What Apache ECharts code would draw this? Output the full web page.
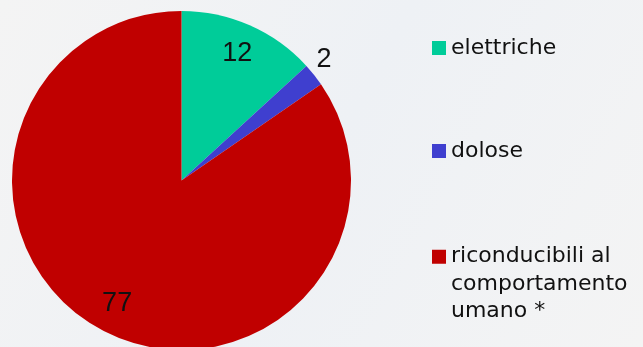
<!DOCTYPE html>
<html>
<head>
<meta charset="utf-8">
<script src="https://cdn.jsdelivr.net/npm/echarts@6/dist/echarts.min.js"></script>
<style>
html,body{margin:0;padding:0;background:#f3f4f6;}
#c{width:643px;height:347px;}
</style>
</head>
<body>
<div id="c"></div>
<script>
var categories = ['elettriche', 'dolose', 'riconducibili al\ncomportamento\numano *'];
var values = [12, 2, 77];
var colors = ['#00cc99', '#3f3fcf', '#c00000'];

var chart = echarts.init(document.getElementById('c'), null, {renderer: 'canvas'});

var center = [181.5, 180.5];
var R = 169.5;

var mainData = categories.map(function (n, i) {
  return { name: n, value: values[i], itemStyle: { color: colors[i] } };
});
var labelData = categories.map(function (n, i) {
  var d = { name: n, value: values[i] };
  if (i === 1) {
    d.label = { position: 'outside', distanceToLabelLine: -17 };
    d.labelLine = { show: false, length: 25, length2: 0 };
  }
  return d;
});

var legendFont = { fontFamily: 'DejaVu Sans', fontSize: 22, color: '#111' };
function mkLegend(i, top, extra, fmt) {
  var ts = Object.assign({}, legendFont, extra || {});
  var l = {
    data: [categories[i]], orient: 'vertical', left: 432, top: top, padding: 0,
    icon: 'rect', itemWidth: 14, itemHeight: 14, itemGap: 0,
    selectedMode: false, textStyle: ts
  };
  if (fmt) l.formatter = fmt;
  return l;
}

chart.setOption({
  backgroundColor: {
    type: 'linear', x: 0, y: 0, x2: 1, y2: 1,
    colorStops: [{offset: 0, color: '#f4f4f4'}, {offset: 0.5, color: '#eef1f5'}, {offset: 1, color: '#f4f4f4'}]
  },
  animation: false,
  legend: [
    mkLegend(0, 37),
    mkLegend(1, 140),
    mkLegend(2, 188, { lineHeight: 27.5 }, function (name) { return '\n\n' + name; })
  ],
  series: [
    {
      type: 'pie', center: center, radius: [0, R], startAngle: 90, clockwise: true,
      avoidLabelOverlap: false, silent: true,
      label: { show: false }, labelLine: { show: false },
      data: mainData
    },
    {
      type: 'pie', center: center, radius: [101.5, R], startAngle: 90, clockwise: true,
      avoidLabelOverlap: false, silent: true,
      itemStyle: { color: 'rgba(0,0,0,0)' },
      label: {
        show: true, position: 'inside', formatter: '{c}',
        fontFamily: 'Liberation Sans', fontSize: 27, color: '#111'
      },
      labelLine: { show: false },
      data: labelData
    }
  ]
});
</script>
</body>
</html>
